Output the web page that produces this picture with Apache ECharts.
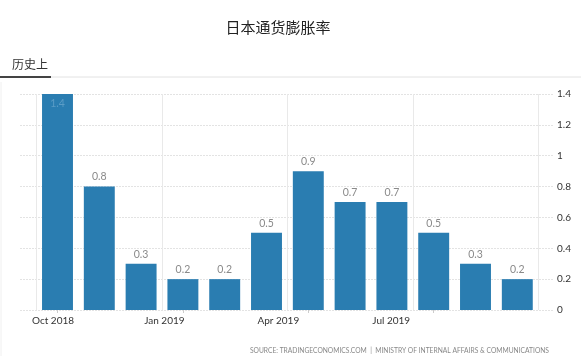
<!DOCTYPE html>
<html>
<head>
<meta charset="utf-8">
<script src="https://cdn.jsdelivr.net/npm/echarts@6/dist/echarts.min.js"></script>
<style>html,body{margin:0;padding:0;background:#fff;}#c{width:581px;height:356px;}</style>
</head>
<body>
<div id="c"></div>
<script>
var categories = ['Oct 2018','Nov 2018','Dec 2018','Jan 2019','Feb 2019','Mar 2019','Apr 2019','May 2019','Jun 2019','Jul 2019','Aug 2019','Sep 2019'];
var values = [1.4, 0.8, 0.3, 0.2, 0.2, 0.5, 0.9, 0.7, 0.7, 0.5, 0.3, 0.2];
var yTicks = [0, 0.2, 0.4, 0.6, 0.8, 1, 1.2, 1.4];
var titleText = '日本通货膨胀率';
var tabText = '历史上';
var sourceText = 'SOURCE: TRADINGECONOMICS.COM  |  MINISTRY OF INTERNAL AFFAIRS & COMMUNICATIONS';

var latin = 'Lato, "Noto Sans", sans-serif';
var labelShift = {0: 9, 3: 37, 6: 60, 9: 85};
var rich = {};
Object.keys(labelShift).forEach(function (k) {
  rich['s' + k] = { padding: [0, labelShift[k], 0, 0], fontSize: 10, color: '#333', fontFamily: latin };
});

var chart = echarts.init(document.getElementById('c'));
chart.setOption({
  animation: false,
  backgroundColor: '#fff',
  title: [
    { text: titleText, left: 273, top: 15, textAlign: 'center',
      textStyle: { fontSize: 15, fontWeight: 'normal', color: '#222', fontFamily: '"Noto Sans CJK SC", sans-serif' } },
    { text: tabText, left: 7, top: 53,
      textStyle: { fontSize: 12, fontWeight: 'normal', color: '#333', fontFamily: '"Noto Sans CJK SC", sans-serif' } },
    { text: sourceText, right: 27, top: 342,
      textStyle: { fontSize: 6.7, fontWeight: 'normal', color: '#888', fontFamily: latin } }
  ],
  graphic: [
    { type: 'line', shape: { x1: 51, y1: 77, x2: 581, y2: 77 }, style: { stroke: '#e2e2e2', lineWidth: 1 } },
    { type: 'line', shape: { x1: 0, y1: 77, x2: 51, y2: 77 }, style: { stroke: '#444', lineWidth: 2 } },
    { type: 'line', shape: { x1: 1, y1: 82, x2: 1, y2: 356 }, style: { stroke: '#f0f0f0', lineWidth: 1 } }
  ],
  grid: [
    { left: 20, right: 28, top: 94, bottom: 46 },
    { left: 36.6, right: 42.8, top: 94, bottom: 46 }
  ],
  xAxis: [
    { gridIndex: 0, type: 'value', min: 0, max: 1, show: false },
    { gridIndex: 1, type: 'category', data: categories,
      axisLine: { show: false },
      axisTick: { show: true, alignWithLabel: true, length: 3, interval: function (i) { return i % 3 === 0; }, lineStyle: { color: '#ccc' } },
      splitLine: { show: true, interval: function (i) { return i % 3 === 0; }, lineStyle: { color: '#e9e9e9', width: 1 } },
      axisLabel: { interval: function (i) { return i % 3 === 0; }, margin: 6,
        formatter: function (v, i) { return '{s' + i + '|' + v + '}'; }, rich: rich }
    }
  ],
  yAxis: [
    { gridIndex: 0, type: 'value', position: 'right', min: 0, max: 1.4, interval: 0.2,
      axisLine: { show: false }, axisTick: { show: false },
      splitLine: { show: true, lineStyle: { color: '#e3e3e3', type: [2, 1] } },
      axisLabel: { margin: 4, color: '#333', fontSize: 10, fontFamily: latin,
        formatter: function (v) { var r = Math.round(v * 10) / 10; return yTicks.indexOf(r) >= 0 ? String(r) : ''; } }
    },
    { gridIndex: 1, type: 'value', min: 0, max: 1.4, interval: 0.2, show: false }
  ],
  series: [{
    type: 'bar',
    xAxisIndex: 1, yAxisIndex: 1,
    barWidth: '74%',
    data: values.map(function (v, i) {
      var d = { value: v };
      if (i === 0) d.label = { position: 'insideTop', color: '#5b9cc6', distance: 4 };
      return d;
    }),
    itemStyle: { color: '#2a7db1' },
    label: { show: true, position: 'top', distance: 4, color: '#8a8a8a', fontSize: 10.5, fontFamily: latin }
  }]
});
</script>
</body>
</html>
